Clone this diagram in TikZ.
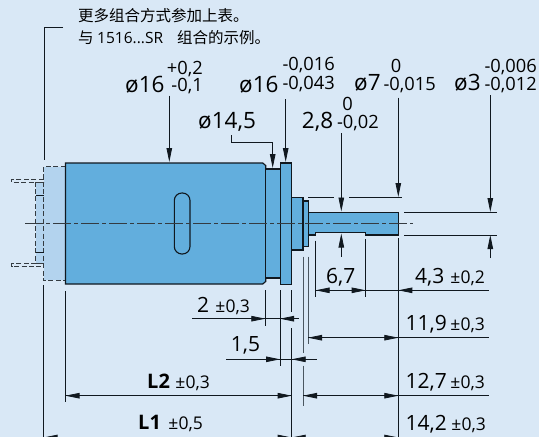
\documentclass[tikz,border=0pt]{standalone}
\usepackage{fontspec}
\setmainfont{Open Sans}
\newfontfamily\cjk{Noto Sans CJK SC}
\usetikzlibrary{arrows.meta}
\definecolor{bgblue}{HTML}{D9E8F6}
\definecolor{motorblue}{HTML}{62AEDD}
\definecolor{paleblue}{HTML}{B3D3EE}
\definecolor{inkline}{HTML}{10181F}
\definecolor{greyline}{HTML}{4A5660}
\tikzset{
	part/.style={draw=inkline, line width=1.2pt, fill=motorblue},
	hidden/.style={draw=inkline!85, line width=0.9pt, dash pattern=on 5pt off 2.4pt},
	dimline/.style={draw=inkline, line width=0.8pt},
	extline/.style={draw=inkline, line width=0.7pt},
	greyext/.style={draw=greyline, line width=1pt},
	tip/.style={-{Triangle[length=14pt,width=5.5pt]}},
	big/.style={inner sep=0pt, font=\fontsize{22.5}{24}\selectfont},
	mid/.style={inner sep=0pt, font=\fontsize{21}{24}\selectfont},
	tol/.style={inner sep=0pt, font=\fontsize{18.3}{20}\selectfont},
	pmtol/.style={inner sep=0pt, font=\fontsize{17.5}{20}\selectfont},
	boldlen/.style={inner sep=0pt, font=\fontsize{20}{24}\selectfont\bfseries},
	note/.style={inner sep=0pt, anchor=base west, font=\fontsize{15.5}{18}\selectfont\cjk}
}
\begin{document}
\begin{tikzpicture}[x=1pt, y=-1pt]
	\clip (0, 0) rectangle (539, 437);
	\fill[bgblue] (0, 0) rectangle (539, 437);

	% dashed add-on at the rear
	\fill[paleblue] (43.5, 166.7) rectangle (65.5, 280.3);
	\fill[paleblue] (35.7, 182) rectangle (43.5, 263);
	\draw[hidden] (65.5, 166.7) -- (43.5, 166.7) -- (43.5, 280.3) -- (65.5, 280.3);
	\draw[hidden] (43.5, 182) -- (35.7, 182) -- (35.7, 263) -- (43.5, 263);
	\draw[hidden] (43.5, 179.3) -- (11.7, 179.3) -- (11.7, 182.3) -- (43.5, 182.3);
	\draw[hidden] (43.5, 263.3) -- (11.7, 263.3) -- (11.7, 266) -- (43.5, 266);
	\draw[dimline] (35.7, 195.3) -- (43.5, 195.3);
	\draw[dimline] (35.7, 252.3) -- (43.5, 252.3);

	% motor
	\draw[part] (65.5, 163) -- (262.7, 163) -- (265.7, 165.5) -- (265.7, 281.5) -- (262.7, 284) -- (65.5, 284) -- cycle;
	\draw[part] (265.7, 169) rectangle (280.3, 278);
	\draw[part] (280.3, 163) rectangle (291.8, 284.5);
	\draw[part] (291.8, 197.3) rectangle (303, 250);
	\draw[part] (303, 201) rectangle (308.3, 246.7);
	\draw[part] (308.3, 212.3) -- (398.3, 212.3) -- (398.3, 235) -- (365.7, 235) -- (365.7, 232.7) -- (315.7, 232.7) -- (315.7, 235) -- (308.3, 235) -- cycle;
	\draw[draw=inkline, line width=1.1pt, rounded corners=7.5pt] (174.3, 193) rectangle (190, 254);

	% centre line
	\draw[draw=inkline!85, line width=0.9pt, dash pattern=on 18pt off 3pt on 4pt off 3pt] (25, 223.7) -- (412.7, 223.7);

	% extension lines
	\draw[extline] (63, 27) -- (44.7, 27) -- (44.7, 160);
	\draw[extline] (43.5, 285) -- (43.5, 437);
	\draw[extline] (65.5, 291) -- (65.5, 401.7);
	\draw[extline] (265.3, 290) -- (265.3, 325.7);
	\draw[extline] (280, 290) -- (280, 366);
	\draw[extline] (291.7, 290) -- (291.7, 311.7);
	\draw[extline] (291.7, 328.3) -- (291.7, 437);
	\draw[greyext] (303, 256.7) -- (303, 352.7);
	\draw[greyext] (303, 365.7) -- (303, 406);
	\draw[greyext] (308, 256.7) -- (308, 344);
	\draw[extline] (315.7, 240.7) -- (315.7, 296.7);
	\draw[extline] (365.7, 239) -- (365.7, 296.7);
	\draw[extline] (398.3, 238.3) -- (398.3, 437);
	\draw[extline] (308.3, 197.3) -- (334.3, 197.3);
	\draw[extline] (349, 197.3) -- (401.7, 197.3);
	\draw[extline] (404, 212.3) -- (497, 212.3);
	\draw[extline] (404, 235) -- (497, 235);

	% arrows from above
	\draw[dimline, tip] (169.3, 95.7) -- (169.3, 162);
	\draw[dimline, tip] (285.7, 99.3) -- (285.7, 162);
	\draw[dimline, tip] (231, 135) -- (231, 142) -- (272.7, 142) -- (272.7, 168);
	\draw[dimline, tip] (341.3, 133.3) -- (341.3, 211.5);
	\draw[dimline, tip] (398.3, 97.7) -- (398.3, 197);
	\draw[dimline, tip] (490.3, 95) -- (490.3, 212);
	\draw[dimline, tip] (341.3, 256.7) -- (341.3, 233.5);
	\draw[dimline, tip] (490.3, 258) -- (490.3, 235);

	% horizontal dimensions
	\draw[dimline] (315.7, 290.3) -- (489, 290.3);
	\draw[dimline, tip] (330, 290.3) -- (315.7, 290.3);
	\draw[dimline, tip] (350, 290.3) -- (365.7, 290.3);
	\draw[dimline, tip] (414, 290.3) -- (398.3, 290.3);
	\draw[dimline] (192.3, 318.7) -- (299.3, 318.7);
	\draw[dimline, tip] (250, 318.7) -- (265.3, 318.7);
	\draw[dimline, tip] (295, 318.7) -- (280, 318.7);
	\draw[dimline] (226, 359.3) -- (316.7, 359.3);
	\draw[dimline, tip] (265, 359.3) -- (280, 359.3);
	\draw[dimline, tip] (306, 359.3) -- (291.7, 359.3);
	\draw[dimline] (308, 337.7) -- (489, 337.7);
	\draw[dimline, tip] (323, 337.7) -- (308, 337.7);
	\draw[dimline, tip] (383, 337.7) -- (398.3, 337.7);
	\draw[dimline] (65.5, 395.7) -- (291.7, 395.7);
	\draw[dimline, tip] (80, 395.7) -- (65.5, 395.7);
	\draw[dimline, tip] (276, 395.7) -- (291.7, 395.7);
	\draw[dimline] (303, 395.7) -- (489, 395.7);
	\draw[dimline, tip] (318, 395.7) -- (303, 395.7);
	\draw[dimline, tip] (383, 395.7) -- (398.3, 395.7);
	\draw[dimline] (43.5, 437.5) -- (398.3, 437.5);
	\draw[dimline, tip] (58, 437.5) -- (43.5, 437.5);
	\draw[dimline, tip] (276, 437.5) -- (291.7, 437.5);
	\draw[dimline, tip] (306, 437.5) -- (291.7, 437.5);
	\draw[dimline, tip] (383, 437.5) -- (398.3, 437.5);

	% note
	\node[note] (noteone) at (78, 21.5) {更多组合方式参加上表。};
	\node[note] (notetwo) at (78, 43) {与 {\fontspec{Open Sans}1516...SR}\hspace{0.9em}组合的示例。};

	% labels
	\node[big, anchor=base west] (diaone) at (125, 92.3) {ø16};
	\node[tol, anchor=base east] (diaoneup) at (203, 74) {+0,2};
	\node[tol, anchor=base east] (diaonelow) at (203, 91.7) {-0,1};
	\node[big, anchor=base west] (diatwo) at (239, 92.3) {ø16};
	\node[tol, anchor=base east] (diatwoup) at (335, 70.7) {-0,016};
	\node[tol, anchor=base east] (diatwolow) at (335, 89) {-0,043};
	\node[big, anchor=base west] (diamid) at (198, 128) {ø14,5};
	\node[big, anchor=base west] (diaseven) at (354, 90.7) {ø7};
	\node[tol, anchor=base] (sevenup) at (396, 72.7) {0};
	\node[tol, anchor=base east] (sevenlow) at (436, 90.7) {-0,015};
	\node[big, anchor=base west] (diathree) at (454, 90.7) {ø3};
	\node[tol, anchor=base east] (threeup) at (537, 72.7) {-0,006};
	\node[tol, anchor=base east] (threelow) at (537, 90.7) {-0,012};
	\node[big, anchor=base west] (flat) at (301.7, 128.3) {2,8};
	\node[tol, anchor=base] (flatup) at (347.7, 110.7) {0};
	\node[tol, anchor=base east] (flatlow) at (379, 128.3) {-0,02};
	\node[mid, anchor=base west] (lensix) at (326, 283.3) {6,7};
	\node[mid, anchor=base east] (lenfour) at (444.5, 283.3) {4,3};
	\node[pmtol, anchor=base east] (lenfourtol) at (485, 283.3) {±0,2};
	\node[mid, anchor=base east] (leneleven) at (447, 330) {11,9};
	\node[pmtol, anchor=base east] (leneleventol) at (485, 330) {±0,3};
	\node[mid, anchor=base east] (lentwelve) at (447, 388.3) {12,7};
	\node[pmtol, anchor=base east] (lentwelvetol) at (485, 388.3) {±0,3};
	\node[mid, anchor=base east] (lenfourteen) at (447, 430) {14,2};
	\node[pmtol, anchor=base east] (lenfourteentol) at (486, 430) {±0,3};
	\node[boldlen, anchor=base west] (ltwo) at (147, 388.3) {L2};
	\node[pmtol, anchor=base east] (ltwotol) at (210, 388.3) {±0,3};
	\node[boldlen, anchor=base west] (lone) at (138, 429.3) {L1};
	\node[pmtol, anchor=base east] (lonetol) at (203, 429.3) {±0,5};
	\node[mid, anchor=base west] (lentwo) at (197, 312.3) {2};
	\node[pmtol, anchor=base east] (lentwotol) at (250, 312.3) {±0,3};
	\node[mid, anchor=base west] (lenone) at (230.7, 351.7) {1,5};
\end{tikzpicture}
\end{document}
